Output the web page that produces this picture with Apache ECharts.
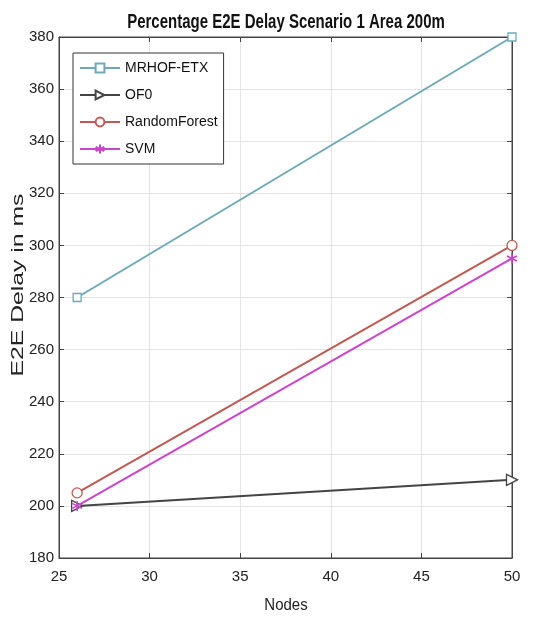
<!DOCTYPE html>
<html>
<head>
<meta charset="utf-8">
<script src="https://cdn.jsdelivr.net/npm/echarts@6/dist/echarts.min.js"></script>
<style>
  html, body { margin: 0; padding: 0; background: #fff; }
  #chart { width: 552px; height: 621px; }
</style>
</head>
<body>
<div id="chart"></div>
<script>
// Node counts where each protocol was measured
const nodes = [26, 50];

// End-to-end delay (ms) per routing approach
const mrhofEtx = [280, 380];
const of0 = [200, 210];
const randomForest = [205, 300];
const svm = [200, 295];

const seriesNames = ['MRHOF-ETX', 'OF0', 'RandomForest', 'SVM'];

const xTicks = { min: 25, max: 50, interval: 5 };
const yTicks = { min: 180, max: 380, interval: 20 };

const titleText = 'Percentage E2E Delay Scenario 1 Area 200m';
const xName = 'Nodes';
const yName = 'E2E Delay in ms';

const asterisk = 'path://M0,-6L0,6M-5.2,-3L5.2,3M-5.2,3L5.2,-3';

function pairs(values) {
  return nodes.map((n, i) => [n, values[i]]);
}

const font = 'Liberation Sans, Arial, sans-serif';
const chart = echarts.init(document.getElementById('chart'));

const tickStyle = { inside: true, length: 5, lineStyle: { color: '#444' } };

chart.setOption({
  animation: false,
  backgroundColor: '#fff',
  graphic: [
    {
      type: 'text', x: 286, y: 23, scaleY: 1.3, silent: true,
      style: {
        text: titleText, fontFamily: font, fontSize: 15, fontWeight: 'bold',
        fill: '#111', align: 'center', verticalAlign: 'middle'
      }
    },
    {
      type: 'text', x: 18, y: 285, rotation: Math.PI / 2, scaleX: 1.5, silent: true,
      style: {
        text: yName, fontFamily: font, fontSize: 16.5,
        fill: '#222', align: 'center', verticalAlign: 'middle'
      }
    },
    {
      type: 'text', x: 286, y: 605, scaleY: 1.15, silent: true,
      style: {
        text: xName, fontFamily: font, fontSize: 15,
        fill: '#222', align: 'center', verticalAlign: 'middle'
      }
    }
  ],
  grid: {
    left: 59, right: 40, top: 37, bottom: 63,
    show: true, borderColor: '#444', borderWidth: 1
  },
  legend: {
    orient: 'vertical',
    left: 73, top: 53,
    padding: [8, 6, 8, 6],
    backgroundColor: '#fff',
    borderColor: '#333', borderWidth: 1,
    itemWidth: 40, itemHeight: 11, itemGap: 13,
    textStyle: { fontFamily: font, fontSize: 14, color: '#111' },
    data: seriesNames
  },
  xAxis: [{
    type: 'value', min: xTicks.min, max: xTicks.max, interval: xTicks.interval,
    axisLine: { lineStyle: { color: '#444' } },
    axisTick: tickStyle,
    axisLabel: { fontFamily: font, fontSize: 15, color: '#222', margin: 11 },
    splitLine: { show: true, lineStyle: { color: '#e4e4e4' } }
  }, {
    type: 'value', position: 'top', min: xTicks.min, max: xTicks.max, interval: xTicks.interval,
    axisLine: { lineStyle: { color: '#444' } },
    axisTick: tickStyle,
    axisLabel: { show: false }, splitLine: { show: false }
  }],
  yAxis: [{
    type: 'value', min: yTicks.min, max: yTicks.max, interval: yTicks.interval,
    axisLine: { lineStyle: { color: '#444' } },
    axisTick: tickStyle,
    axisLabel: { fontFamily: font, fontSize: 15, color: '#222', margin: 5 },
    splitLine: { show: true, lineStyle: { color: '#e4e4e4' } }
  }, {
    type: 'value', position: 'right', min: yTicks.min, max: yTicks.max, interval: yTicks.interval,
    axisLine: { lineStyle: { color: '#444' } },
    axisTick: tickStyle,
    axisLabel: { show: false }, splitLine: { show: false }
  }],
  series: [
    {
      name: 'MRHOF-ETX', type: 'line', data: pairs(mrhofEtx),
      symbol: 'rect', symbolSize: 8,
      lineStyle: { color: '#6fa9b8', width: 2 },
      itemStyle: { color: '#fff', borderColor: '#6fa9b8', borderWidth: 1.3 }
    },
    {
      name: 'OF0', type: 'line', data: pairs(of0),
      symbol: 'triangle', symbolRotate: -90, symbolSize: 11,
      lineStyle: { color: '#444', width: 2 },
      itemStyle: { color: '#fff', borderColor: '#444', borderWidth: 1.3 }
    },
    {
      name: 'RandomForest', type: 'line', data: pairs(randomForest),
      symbol: 'circle', symbolSize: 10,
      lineStyle: { color: '#bf5a52', width: 2 },
      itemStyle: { color: '#fff', borderColor: '#bf5a52', borderWidth: 1.3 }
    },
    {
      name: 'SVM', type: 'line', data: pairs(svm),
      symbol: asterisk, symbolSize: 10,
      lineStyle: { color: '#cc44cc', width: 2 },
      itemStyle: { color: '#cc44cc', borderColor: '#cc44cc', borderWidth: 1.6 }
    }
  ]
});
</script>
</body>
</html>
